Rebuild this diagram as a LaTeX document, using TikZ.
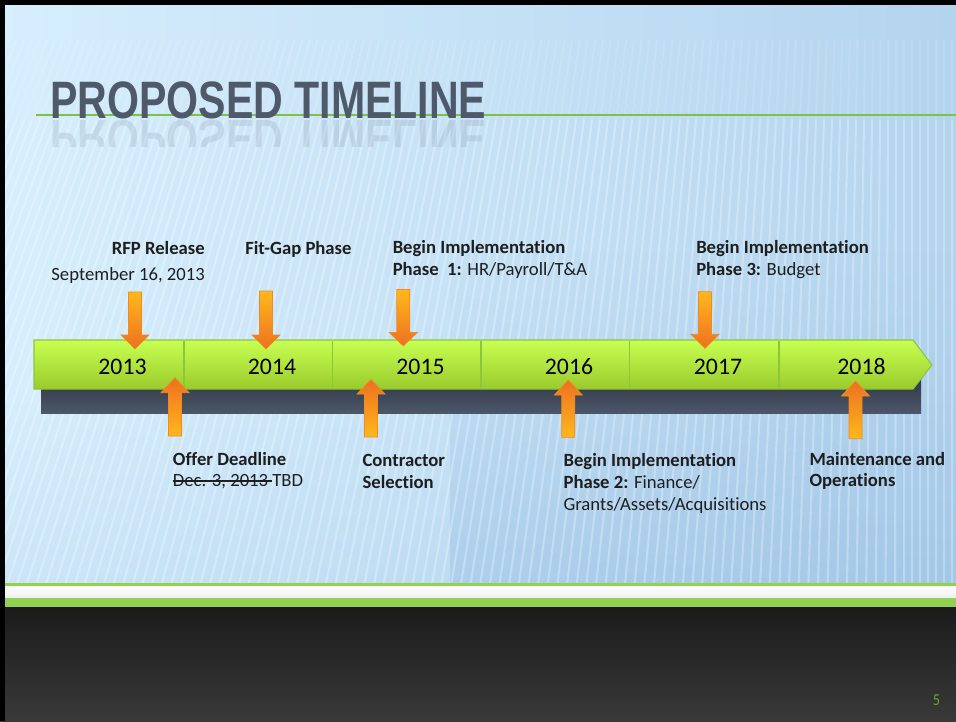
\documentclass[tikz,border=0pt]{standalone}
\usepackage{fontspec}
\setmainfont{Carlito}[Ligatures=CommonOff]
\newfontfamily\titlefont{Liberation Sans}
\usepackage{graphicx}
\usetikzlibrary{fadings}
\definecolor{bgL}{HTML}{D6EEFD}
\definecolor{bgR}{HTML}{B4D4EE}
\definecolor{bgB}{HTML}{8FB9E0}
\definecolor{titlec}{HTML}{4E5A6A}
\definecolor{lgreen}{HTML}{7DC242}
\definecolor{bandgreen}{HTML}{92D050}
\definecolor{barT}{HTML}{C8FF52}
\definecolor{barB}{HTML}{9ACB2C}
\definecolor{barE}{HTML}{8CC63F}
\definecolor{shT}{HTML}{2C323D}
\definecolor{shB}{HTML}{4C576A}
\definecolor{arrL}{HTML}{FFB81C}
\definecolor{arrD}{HTML}{EE7020}
\definecolor{arrB}{HTML}{F08A24}
\definecolor{txt}{HTML}{1E1E1E}
\definecolor{darkT}{HTML}{1B1B1B}
\definecolor{darkB}{HTML}{393939}
\newcommand\strk[1]{\setbox0\hbox{#1}\rlap{\raisebox{0.27em}{\rule{\wd0}{0.07em}}}\box0}
\newcommand\dnarr[4]{%
  \shade[top color=arrL, bottom color=arrD, draw=arrB, line width=0.5pt]
   ({#1-6.5},#2) -- ({#1+6.5},#2) -- ({#1+6.5},#3) -- ({#1+14},#3) -- (#1,#4)
   -- ({#1-14},#3) -- ({#1-6.5},#3) -- cycle;}
\newcommand\uparr[4]{%
  \shade[top color=arrD, bottom color=arrL, draw=arrB, line width=0.5pt]
   ({#1-6.5},#2) -- ({#1+6.5},#2) -- ({#1+6.5},#3) -- ({#1+14},#3) -- (#1,#4)
   -- ({#1-14},#3) -- ({#1-6.5},#3) -- cycle;}
\begin{document}
\begin{tikzpicture}[x=0.75pt,y=-0.75pt,
  lbl/.style={font=\fontsize{14}{17}\selectfont, inner sep=0pt, text=txt},
  year/.style={font=\fontsize{17.8}{20}\selectfont, inner sep=0pt, text=black},
  divider/.style={draw=barE, line width=0.9pt}]
\useasboundingbox (0,0) rectangle (956,721);
% background
\shade[left color=bgL, right color=bgR] (0,0) rectangle (956,585);
\fill[bgB, path fading=north, opacity=0.35] (450,250) rectangle (956,585);
\fill[bgB, path fading=north, opacity=0.15] (0,400) rectangle (956,585);
% stripes
\begin{scope}
\clip (0,30) rectangle (956,584);
\foreach \x in {-240,-232,...,960}{
  \pgfmathsetmacro\s{max(0,0.4*(1-\x/900))}
  \draw[white, line width=1.6pt, opacity=0.28] (\x,120) -- ({\x-\s*463},583);
  \draw[white, line width=1.6pt, opacity=0.12] ({\x+\s*80},40) -- (\x,120);
}
\end{scope}
% bottom bands
\fill[bandgreen] (0,583) rectangle (956,586);
\shade[top color=white, bottom color=black!6] (0,586) rectangle (956,597.5);
\fill[bandgreen] (0,597.5) rectangle (956,607);
\shade[top color=darkT, bottom color=darkB] (0,607) rectangle (956,721);
% frame
\fill[black] (0,0) rectangle (956,5);
\fill[black] (0,0) rectangle (5,721);
% title
\draw[lgreen, line width=1.5pt] (36,115) -- (956,115);
\node[anchor=base west, inner sep=0pt, text=titlec] (title) at (50,118)
  {\scalebox{0.78}[1]{\titlefont\bfseries\fontsize{39.5}{40}\selectfont PROPOSED TIMELINE}};
\begin{scope}
\clip (40,119) rectangle (500,146);
\node[anchor=base west, inner sep=0pt, text=titlec, opacity=0.13] (reflect) at (50,120)
  {\scalebox{0.78}[-1]{\titlefont\bfseries\fontsize{39.5}{40}\selectfont PROPOSED TIMELINE}};
\end{scope}
% timeline shadow and bar
\shade[top color=shT, bottom color=shB] (41,372) rectangle (921,413);
\shade[top color=barT, bottom color=barB, draw=barE, line width=0.8pt]
  (34,340) -- (913,340) -- (932,365) -- (913,389) -- (34,389) -- cycle;
\foreach \d in {184,332.5,481,629.5,779}{
  \draw[divider] (\d,341) -- (\d,388);
}
\node[year, anchor=base] (y2013) at (122.5,374.5) {2013};
\node[year, anchor=base] (y2014) at (272,374.5) {2014};
\node[year, anchor=base] (y2015) at (420.5,374.5) {2015};
\node[year, anchor=base] (y2016) at (569,374.5) {2016};
\node[year, anchor=base] (y2017) at (718,374.5) {2017};
\node[year, anchor=base] (y2018) at (861.5,374.5) {2018};
% arrows
\dnarr{135}{292}{335}{349}
\dnarr{266}{291}{335}{349}
\dnarr{403.3}{289.5}{332.5}{346}
\dnarr{705}{291.7}{334.3}{348.3}
\uparr{175}{436}{392.7}{377.7}
\uparr{371}{437}{394}{379.5}
\uparr{568.3}{437.3}{395}{380}
\uparr{855.5}{438.7}{396}{381}
% labels above
\node[lbl, anchor=base east] (rfp) at (205,254) {\bfseries RFP Release};
\node[lbl, anchor=base east] (rfpd) at (205,280.7) {September 16, 2013};
\node[lbl, anchor=base west] (fitgap) at (245,254) {\bfseries Fit-Gap Phase};
\node[lbl, anchor=base west] (p1a) at (392.5,253.3) {\bfseries Begin Implementation};
\node[lbl, anchor=base west] (p1b) at (392.5,275.7) {\textbf{Phase\ \ 1:} HR/Payroll/T\&A};
\node[lbl, anchor=base west] (p3a) at (696,253.3) {\bfseries Begin Implementation};
\node[lbl, anchor=base west] (p3b) at (696,275.7) {\textbf{Phase 3:} Budget};
% labels below
\node[lbl, anchor=base west] (offa) at (172.7,465) {\bfseries Offer Deadline};
\node[lbl, anchor=base west] (offb) at (172.7,486.7) {\strk{Dec. 3, 2013 }TBD};
\node[lbl, anchor=base west] (cona) at (362.3,466) {\bfseries Contractor};
\node[lbl, anchor=base west] (conb) at (362.3,488.3) {\bfseries Selection};
\node[lbl, anchor=base west] (p2a) at (563.3,466.7) {\bfseries Begin Implementation};
\node[lbl, anchor=base west] (p2b) at (563.3,488.3) {\textbf{Phase 2:} Finance/};
\node[lbl, anchor=base west] (p2c) at (563.3,510) {Grants/Assets/Acquisitions};
\node[lbl, anchor=base west] (mnta) at (809.3,465) {\bfseries Maintenance and};
\node[lbl, anchor=base west] (mntb) at (809.3,486.7) {\bfseries Operations};
% page number
\node[anchor=base, inner sep=0pt, text=lgreen!85!black] (page) at (936.5,705)
  {\scalebox{0.85}[1]{\fontsize{12.5}{14}\selectfont 5}};
\end{tikzpicture}
\end{document}
